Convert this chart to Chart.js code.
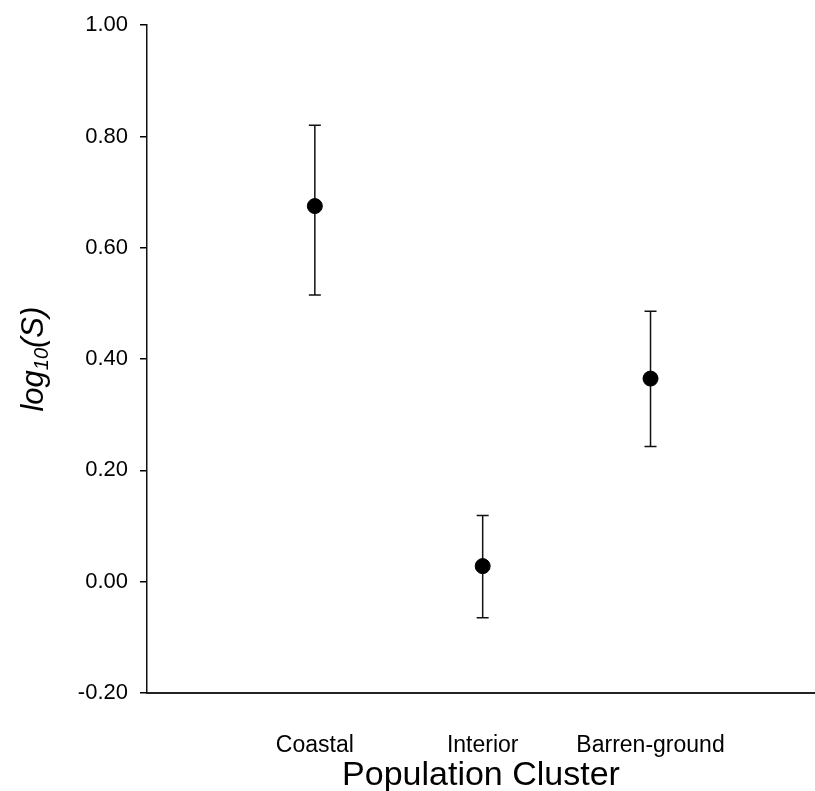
<!DOCTYPE html>
<html>
<head>
<meta charset="utf-8">
<script src="https://cdn.jsdelivr.net/npm/chart.js@4.4.0/dist/chart.umd.min.js"></script>
<style>
    html, body { margin: 0; padding: 0; background: #fff; }
    #wrap { width: 815px; height: 791px; }
</style>
</head>
<body>
<div id="wrap"><canvas id="clusterChart" width="815" height="791"></canvas></div>
<script>
// categories sit at x = 1, 2, 3 on a linear axis
const categories = ['Coastal', 'Interior', 'Barren-ground'];
const categoryPos = [1, 2, 3];
const means = [0.675, 0.028, 0.365];
const upper = [0.820, 0.119, 0.486];
const lower = [0.515, -0.065, 0.243];
const yTicks = [-0.20, 0.00, 0.20, 0.40, 0.60, 0.80, 1.00];

const FONT = "'Liberation Sans', Arial, sans-serif";

// error bars drawn through the chart scales
const errorBars = {
    id: 'errorBars',
    beforeDatasetsDraw(chart) {
        const { ctx, scales: { x, y } } = chart;
        ctx.save();
        ctx.strokeStyle = '#111';
        ctx.lineWidth = 1.5;
        categoryPos.forEach((pos, i) => {
            const px = x.getPixelForValue(pos);
            const top = y.getPixelForValue(upper[i]);
            const bottom = y.getPixelForValue(lower[i]);
            ctx.beginPath();
            ctx.moveTo(px, top);
            ctx.lineTo(px, bottom);
            ctx.moveTo(px - 6, top);
            ctx.lineTo(px + 6, top);
            ctx.moveTo(px - 6, bottom);
            ctx.lineTo(px + 6, bottom);
            ctx.stroke();
        });
        ctx.restore();
    }
};

// y axis title with a subscript: log10(S)
const yTitle = {
    id: 'yTitle',
    afterDraw(chart) {
        const { ctx, chartArea } = chart;
        const big = `italic 31px ${FONT}`;
        const small = `italic 20px ${FONT}`;
        ctx.save();
        ctx.font = big;
        const w1 = ctx.measureText('log').width;
        const w3 = ctx.measureText('(S)').width;
        ctx.font = small;
        const w2 = ctx.measureText('10').width;
        const total = w1 + w2 + w3;
        ctx.translate(34, (chartArea.top + chartArea.bottom) / 2);
        ctx.rotate(-Math.PI / 2);
        ctx.fillStyle = '#000';
        ctx.textBaseline = 'middle';
        ctx.textAlign = 'left';
        let cx = -total / 2;
        ctx.font = big;
        ctx.fillText('log', cx, 0);
        cx += w1;
        ctx.font = small;
        ctx.fillText('10', cx, 8);
        cx += w2;
        ctx.font = big;
        ctx.fillText('(S)', cx, 0);
        ctx.restore();
    }
};

new Chart(document.getElementById('clusterChart'), {
    type: 'scatter',
    data: {
        datasets: [{
            label: 'log10(S)',
            data: categoryPos.map((pos, i) => ({ x: pos, y: means[i] })),
            backgroundColor: '#000',
            borderColor: '#000',
            pointRadius: 7.5,
            pointHoverRadius: 7.5
        }]
    },
    options: {
        responsive: false,
        animation: false,
        layout: { autoPadding: false, padding: { top: 23, right: 0, left: 0, bottom: 0 } },
        plugins: {
            legend: { display: false },
            tooltip: { enabled: false }
        },
        scales: {
            x: {
                type: 'linear',
                min: 0,
                max: 3.98,
                afterBuildTicks: scale => {
                    scale.ticks = categoryPos.map(v => ({ value: v }));
                },
                afterFit: scale => {
                    scale.height = 98;
                    scale.paddingLeft = 0;
                    scale.paddingRight = 0;
                },
                grid: { drawOnChartArea: false, drawTicks: false },
                border: { display: true, color: '#222', width: 2 },
                ticks: {
                    padding: 39,
                    color: '#000',
                    font: { family: FONT, size: 23 },
                    callback: value => categories[categoryPos.indexOf(value)] ?? ''
                },
                title: {
                    display: true,
                    text: 'Population Cluster',
                    color: '#000',
                    font: { family: FONT, size: 34, lineHeight: 1 },
                    padding: { top: 0, bottom: -2 }
                }
            },
            y: {
                type: 'linear',
                min: -0.2,
                max: 1.0,
                afterBuildTicks: scale => {
                    scale.ticks = yTicks.map(v => ({ value: v }));
                },
                afterFit: scale => { scale.width = 147; },
                grid: {
                    drawOnChartArea: false,
                    drawTicks: true,
                    tickLength: 7,
                    color: '#000',
                    lineWidth: 1.5
                },
                border: { display: true, color: '#111', width: 1.5 },
                ticks: {
                    padding: 12,
                    color: '#000',
                    font: { family: FONT, size: 22 },
                    callback: value => value.toFixed(2)
                }
            }
        }
    },
    plugins: [errorBars, yTitle]
});
</script>
</body>
</html>
